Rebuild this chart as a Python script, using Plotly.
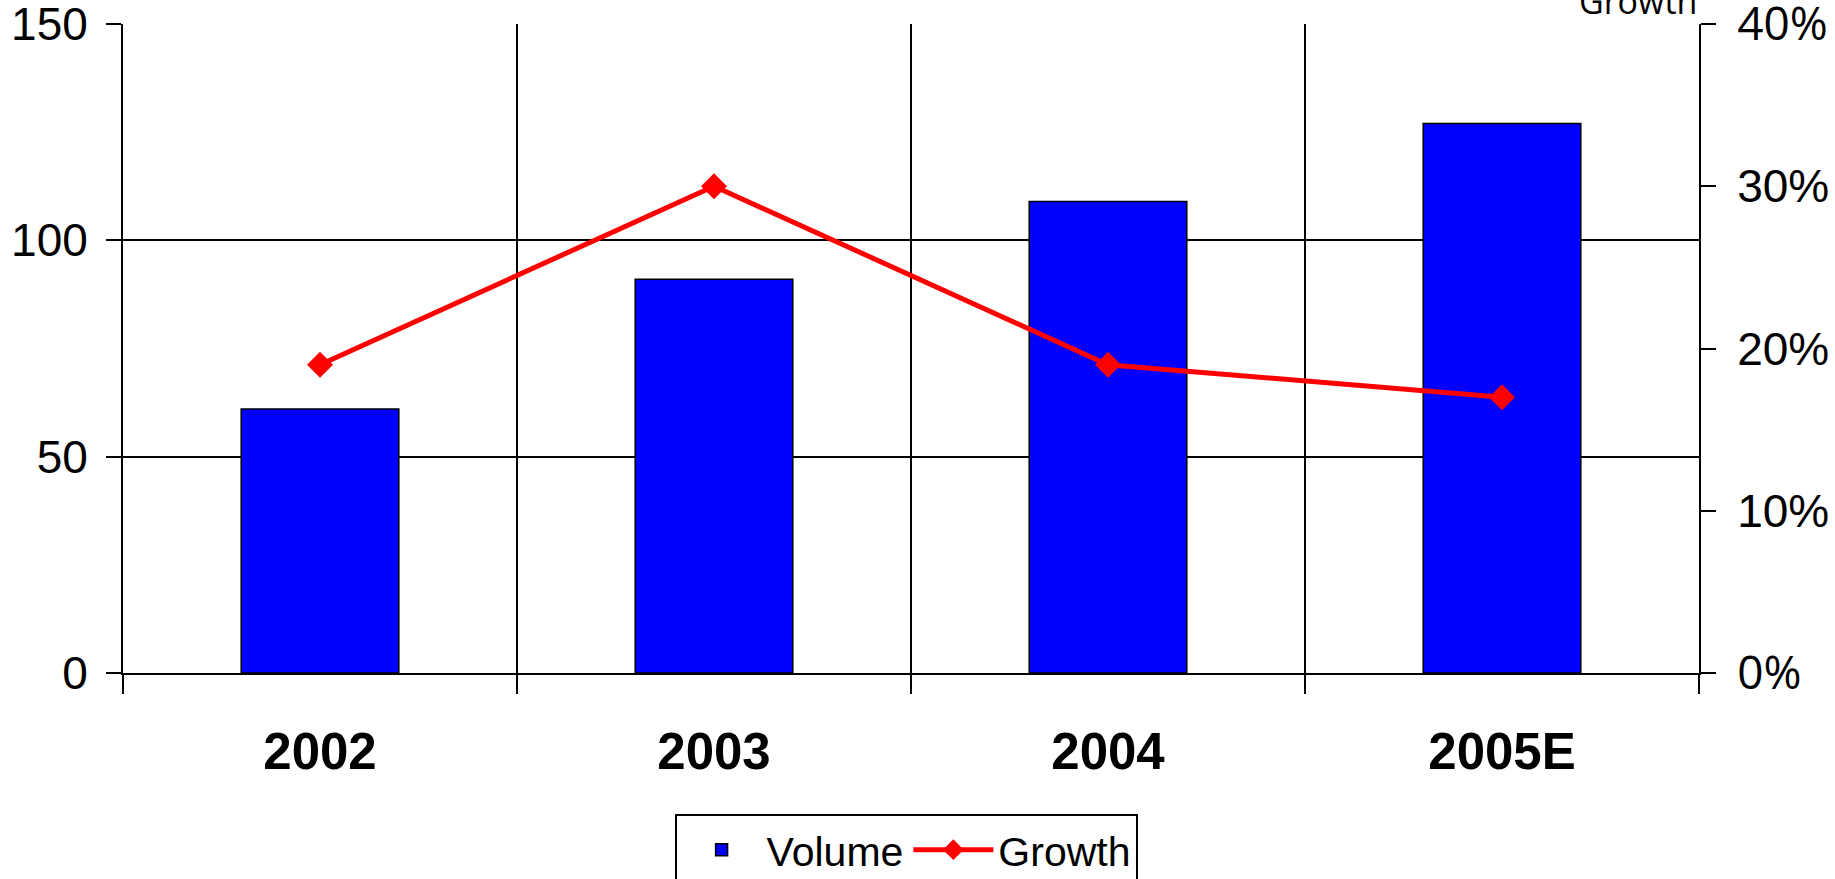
import plotly.graph_objects as go

# Chart data
years = ["2002", "2003", "2004", "2005E"]
volume = [61, 91, 109, 127]
growth = [0.19, 0.30, 0.19, 0.17]

# Right-axis tick labels
growth_ticks = [0, 0.1, 0.2, 0.3, 0.4]
growth_labels = [
    '<span style="font-family:Open Sans">0%</span>',
    "10%", "20%", "30%",
    '<span style="font-family:Open Sans">40%</span>',
]

ARIAL = "Liberation Sans, Arial, sans-serif"
NARROW = "Liberation Sans Narrow, Arial Narrow, Liberation Sans, Arial, sans-serif"

fig = go.Figure()

fig.add_trace(go.Bar(
    x=years, y=volume, name="Volume",
    marker=dict(color="#0000FF", line=dict(color="black", width=1.5)),
    width=0.4,
))

fig.add_trace(go.Scatter(
    x=years, y=growth, name="Growth", yaxis="y2",
    mode="lines+markers",
    line=dict(color="#FF0000", width=5),
    marker=dict(symbol="diamond", size=20, color="#FF0000"),
))

fig.update_layout(
    width=1835, height=879,
    margin=dict(l=123, r=136, t=24, b=206, autoexpand=False),
    paper_bgcolor="white", plot_bgcolor="white",
    showlegend=True,
    legend=dict(
        orientation="h",
        x=0.350, xanchor="left",
        y=-0.218, yanchor="top",
        font=dict(family=NARROW, size=41, color="black"),
        bordercolor="black", borderwidth=2,
        bgcolor="white",
        itemwidth=80,
    ),
    xaxis=dict(
        type="category",
        tickson="boundaries",
        ticks="outside", ticklen=19, tickwidth=2, tickcolor="black",
        showgrid=True, gridcolor="black", gridwidth=1.5,
        showline=True, linecolor="black", linewidth=2,
        tickfont=dict(family=ARIAL, size=51, color="black", weight="bold"),
        ticklabelstandoff=33,
        automargin=False,
    ),
    yaxis=dict(
        range=[0, 150], tickvals=[0, 50, 100, 150],
        ticks="outside", ticklen=15, tickwidth=2, tickcolor="black",
        showgrid=True, gridcolor="black", gridwidth=1.5,
        showline=True, linecolor="black", linewidth=2,
        zeroline=False,
        tickfont=dict(family=ARIAL, size=46, color="black"),
        ticklabelstandoff=9,
        ticklabeloverflow="allow",
        automargin=False,
    ),
    yaxis2=dict(
        overlaying="y", side="right",
        range=[0, 0.4], tickvals=growth_ticks, ticktext=growth_labels,
        ticks="outside", ticklen=15, tickwidth=2, tickcolor="black",
        showgrid=False, zeroline=False,
        showline=True, linecolor="black", linewidth=2,
        tickfont=dict(family=ARIAL, size=46, color="black"),
        ticklabelstandoff=12,
        ticklabeloverflow="allow",
        automargin=False,
    ),
    annotations=[dict(
        text="Growth", xref="paper", yref="paper",
        x=1.0, y=1.0, xanchor="right", yanchor="bottom",
        yshift=-2, showarrow=False,
        font=dict(family="Open Sans, sans-serif", size=34, color="black"),
    )],
)

fig.write_html("out.html")
